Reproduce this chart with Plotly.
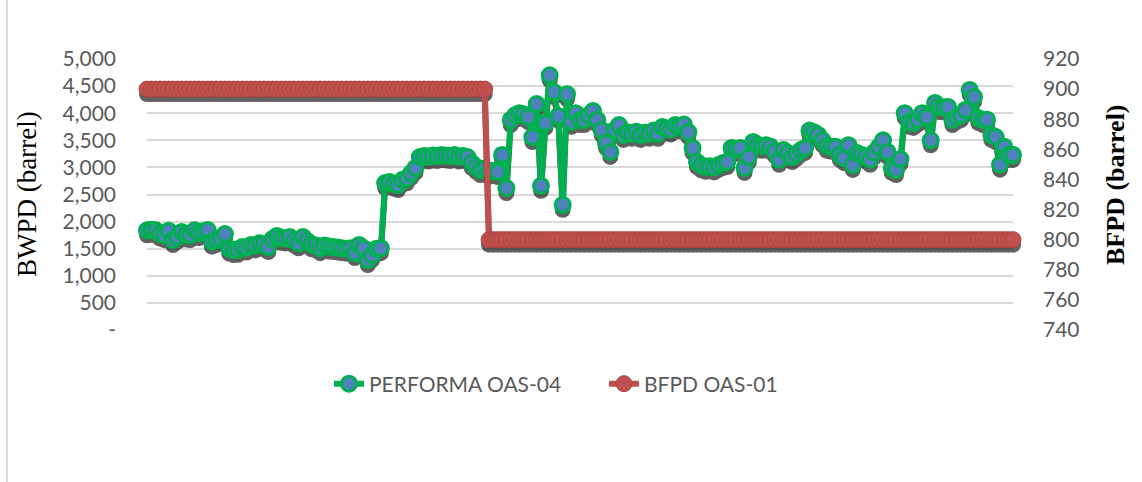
import plotly.graph_objects as go

# Daily well performance: water rate (left axis) and fluid rate (right axis)
bwpd_oas04 = [
    1840, 1850, 1840, 1780, 1750, 1830, 1660, 1720, 1810, 1760,
    1750, 1840, 1790, 1820, 1845, 1630, 1660, 1700, 1770, 1500,
    1475, 1480, 1530, 1520, 1570, 1560, 1600, 1580, 1530, 1680,
    1735, 1700, 1690, 1715, 1650, 1600, 1715, 1640, 1580, 1560,
    1510, 1560, 1540, 1530, 1520, 1510, 1500, 1510, 1420, 1570,
    1510, 1290, 1380, 1500, 1510, 2710, 2730, 2700, 2675, 2770,
    2800, 2895, 2990, 3190, 3210, 3200, 3220, 3210, 3230, 3220,
    3210, 3230, 3200, 3210, 3190, 3080, 3010, 2950, 2980, 2920,
    2940, 2915, 3230, 2620, 3875, 3960, 4000, 3980, 3930, 3560,
    4170, 2660, 3820, 4700, 4390, 3950, 2310, 4350, 3840, 4000,
    3875, 3875, 3960, 4040, 3875, 3690, 3450, 3285, 3690, 3780,
    3600, 3650, 3620, 3660, 3600, 3640, 3620, 3680, 3620, 3745,
    3720, 3700, 3780, 3760, 3790, 3650, 3360, 3100, 3040, 3010,
    3020, 3000, 3045, 3080, 3100, 3360, 3340, 3360, 2990, 3190,
    3470, 3420, 3400, 3410, 3380, 3300, 3140, 3320, 3260, 3190,
    3250, 3320, 3360, 3680, 3650, 3600, 3500, 3400, 3380, 3380,
    3230, 3170, 3410, 3045, 3265, 3230, 3200, 3140, 3280, 3380,
    3500, 3285, 2990, 2950, 3155, 4000, 3840, 3820, 3880, 4000,
    3930, 3500, 4190, 4115, 4110, 4115, 3875, 3930, 3965, 4060,
    4430, 4300, 3910, 3875, 3880, 3600, 3560, 3050, 3380, 3230,
    3230,
]
bfpd_oas01 = [900] * 79 + [800] * 122
day = list(range(len(bwpd_oas04)))

left_ticks = [0, 500, 1000, 1500, 2000, 2500, 3000, 3500, 4000, 4500, 5000]
left_labels = ["-", "500", "1,000", "1,500", "2,000", "2,500", "3,000",
               "3,500", "4,000", "4,500", "5,000"]
right_ticks = [740, 760, 780, 800, 820, 840, 860, 880, 900, 920]

GREEN = "#00B050"
BLUE = "#4F81BD"
RED = "#C0504D"
TICK_FONT = dict(family="Lato", size=21, color="#595959")

L_RANGE = [0, 5000]
R_RANGE = [740, 920]
PLOT_H = 271  # plot height in px, used to convert a px drop-shadow offset
SHADOW_PX = 5
l_shift = SHADOW_PX * (L_RANGE[1] - L_RANGE[0]) / PLOT_H
r_shift = SHADOW_PX * (R_RANGE[1] - R_RANGE[0]) / PLOT_H

fig = go.Figure()

# invisible carrier on the base axis so the left-axis subplot is built
fig.add_trace(go.Scatter(
    x=day, y=bwpd_oas04, yaxis="y", mode="lines",
    line=dict(color="rgba(0,0,0,0)", width=0),
    showlegend=False, hoverinfo="skip"))

# drop shadow of the water-rate series
fig.add_trace(go.Scatter(
    x=day, y=bwpd_oas04, yaxis="y2", mode="lines+markers",
    line=dict(color="black", width=6),
    marker=dict(size=16, color="black"),
    opacity=0.62, showlegend=False, hoverinfo="skip", cliponaxis=False))

fig.add_trace(go.Scatter(
    x=day, y=bwpd_oas04, yaxis="y3", mode="lines+markers",
    name="PERFORMA OAS-04",
    line=dict(color=GREEN, width=6),
    marker=dict(size=15, color=BLUE, line=dict(color=GREEN, width=3)),
    cliponaxis=False))

# drop shadow of the fluid-rate series
fig.add_trace(go.Scatter(
    x=day, y=bfpd_oas01, yaxis="y4", mode="lines+markers",
    line=dict(color="black", width=6),
    marker=dict(size=16, color="black"),
    opacity=0.62, showlegend=False, hoverinfo="skip", cliponaxis=False))

fig.add_trace(go.Scatter(
    x=day, y=bfpd_oas01, yaxis="y5", mode="lines+markers",
    name="BFPD OAS-01",
    line=dict(color=RED, width=6),
    marker=dict(size=16, color=RED, line=dict(color="#B0443F", width=1)),
    cliponaxis=False))

fig.update_layout(
    width=1142, height=482, autosize=False,
    margin=dict(l=147, r=129, t=59, b=152),
    paper_bgcolor="white", plot_bgcolor="white",
    xaxis=dict(range=[0, len(day) - 1], showgrid=False, zeroline=False,
               showticklabels=False, showline=False, ticks=""),
    yaxis=dict(range=L_RANGE, tickvals=left_ticks, ticktext=left_labels,
               showgrid=True, gridcolor="#D9D9D9", gridwidth=1.5,
               zeroline=False, showline=False, ticks="",
               tickfont=TICK_FONT, ticklabelstandoff=30),
    yaxis2=dict(range=[L_RANGE[0] + l_shift, L_RANGE[1] + l_shift],
                overlaying="y", visible=False),
    yaxis3=dict(range=L_RANGE, overlaying="y", visible=False),
    yaxis4=dict(range=[R_RANGE[0] + r_shift, R_RANGE[1] + r_shift],
                overlaying="y", visible=False),
    yaxis5=dict(range=R_RANGE, overlaying="y", side="right",
                tickvals=right_ticks, showgrid=False, zeroline=False,
                showline=False, ticks="", tickfont=TICK_FONT,
                ticklabelstandoff=29),
    legend=dict(orientation="h", x=(329 - 147) / 866, xanchor="left",
                y=(330 - 384) / 271, yanchor="middle",
                font=dict(family="Lato", size=21, color="#595959"),
                entrywidth=230, entrywidthmode="pixels",
                bgcolor="rgba(0,0,0,0)"),
    showlegend=True,
    annotations=[
        dict(text="BWPD (barrel)", textangle=-90, showarrow=False,
             xref="paper", yref="paper", x=(27 - 147) / 866,
             y=(330 - 194) / 271, xanchor="center", yanchor="middle",
             font=dict(family="Liberation Serif", size=27, color="black")),
        dict(text="<b>BFPD (barrel)</b>", textangle=-90, showarrow=False,
             xref="paper", yref="paper", x=(1115 - 147) / 866,
             y=(330 - 185) / 271, xanchor="center", yanchor="middle",
             font=dict(family="Liberation Serif", size=26, color="black")),
    ],
    shapes=[
        dict(type="line", xref="paper", yref="paper",
             x0=(7 - 147) / 866, x1=(7 - 147) / 866,
             y0=(330 - 482) / 271, y1=330 / 271,
             line=dict(color="#D9D9D9", width=2)),
    ],
)

fig.write_html("out.html")
